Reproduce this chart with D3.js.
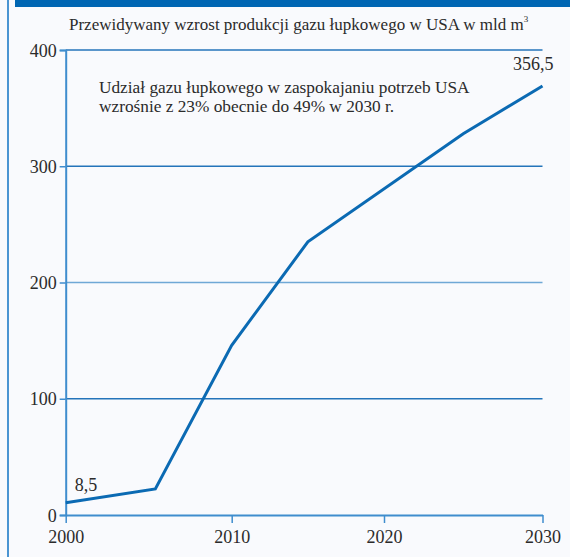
<!DOCTYPE html>
<html>
<head>
<meta charset="utf-8">
<script src="https://cdn.jsdelivr.net/npm/d3@7"></script>
<style>
  html, body { margin: 0; padding: 0; background: #f9fafd; }
  svg { display: block; }
</style>
</head>
<body>
<script>
// data
var years  = [2000, 2005.4, 2010, 2015, 2025, 2030];
var values = [10.5, 22.4, 146, 235, 328, 369];

var xTicks = [2000, 2010, 2020, 2030];
var yTicks = [0, 100, 200, 300, 400];
var gridValues = [100, 200, 300, 400];

var title = "Przewidywany wzrost produkcji gazu łupkowego w USA w mld m";
var noteLines = ["Udział gazu łupkowego w zaspokajaniu potrzeb USA",
                 "wzrośnie z 23% obecnie do 49% w 2030 r."];
var startLabel = "8,5";
var endLabel = "356,5";

var W = 570, H = 557;
var FONT = "'Liberation Serif', serif";
var INK = "#2b2b2b";

var svg = d3.select("body").append("svg")
  .attr("width", W)
  .attr("height", H);

// frame: top bar + left border
svg.append("rect").attr("x", 15).attr("y", 0).attr("width", W - 15).attr("height", 7).attr("fill", "#0066b3");
svg.append("rect").attr("x", 7).attr("y", 0).attr("width", 2).attr("height", H).attr("fill", "#4b95d2");

// the printed axis is a bit uneven, so the x scale is piecewise
var x = d3.scaleLinear()
  .domain(xTicks)
  .range([65.7, 231.7, 384, 542.5]);

var y = d3.scaleLinear()
  .domain([0, 400])
  .range([515, 50]);

// grid
svg.append("g").selectAll("line")
  .data(gridValues)
  .join("line")
  .attr("x1", x(2000)).attr("x2", x(2030))
  .attr("y1", d => y(d)).attr("y2", d => y(d))
  .attr("stroke", d => d === 200 ? "#6fa8d6" : "#2474ba")
  .attr("stroke-width", 1.3);

// y axis
var yAxis = d3.axisLeft(y).tickValues(yTicks).tickSize(6).tickPadding(3).tickFormat(d3.format("d"));
var gy = svg.append("g").attr("transform", "translate(" + x(2000) + ",0)").call(yAxis);
gy.select(".domain").attr("stroke", "#3f8dce").attr("stroke-width", 2);
gy.selectAll(".tick line").attr("stroke", "#3f8dce").attr("stroke-width", 1.5);
gy.selectAll(".tick text")
  .style("font-family", FONT).style("font-size", "18px").attr("fill", INK)
  .attr("dy", "0.34em");

// x axis
var xAxis = d3.axisBottom(x).tickValues(xTicks).tickSize(8).tickSizeOuter(0).tickPadding(6).tickFormat(d3.format("d"));
var gx = svg.append("g").attr("transform", "translate(0," + y(0) + ")").call(xAxis);
gx.select(".domain").attr("stroke", "#3f8dce").attr("stroke-width", 2);
gx.selectAll(".tick line").attr("stroke", "#3f8dce").attr("stroke-width", 1.5);
gx.selectAll(".tick text")
  .style("font-family", FONT).style("font-size", "18px").attr("fill", INK)
  .attr("dy", "0.8em");

// series line
var line = d3.line()
  .x((d, i) => x(years[i]))
  .y(d => y(d));

svg.append("path")
  .datum(values)
  .attr("d", line)
  .attr("fill", "none")
  .attr("stroke", "#0b6ab3")
  .attr("stroke-width", 3);

// title
var t = svg.append("text").attr("x", 69).attr("y", 30)
  .style("font-family", FONT).style("font-size", "17px").attr("fill", INK)
  .text(title);
t.append("tspan").style("font-size", "9px").attr("dy", -8).text("3");

// note
svg.append("g").selectAll("text")
  .data(noteLines)
  .join("text")
  .attr("x", 99)
  .attr("y", (d, i) => 92.5 + i * 19)
  .style("font-family", FONT).style("font-size", "17.3px").attr("fill", INK)
  .text(d => d);

// value labels
svg.append("text").attr("x", x(years[0]) + 9).attr("y", y(values[0]) - 12)
  .style("font-family", FONT).style("font-size", "18px").attr("fill", INK)
  .text(startLabel);
svg.append("text").attr("x", x(years[years.length - 1]) + 11).attr("y", y(values[values.length - 1]) - 16)
  .attr("text-anchor", "end")
  .style("font-family", FONT).style("font-size", "18px").attr("fill", INK)
  .text(endLabel);
</script>
</body>
</html>
